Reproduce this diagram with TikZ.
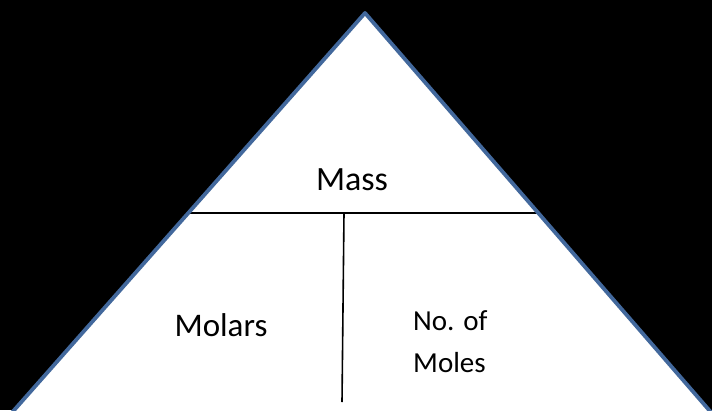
\documentclass[tikz,border=0pt]{standalone}
\usepackage{fontspec}
\setmainfont{Carlito}
\usetikzlibrary{positioning}
\definecolor{edgeblue}{RGB}{66,104,156}
\tikzset{
  word/.style={inner sep=0pt,font=\fontsize{34}{40}\selectfont},
  smallword/.style={inner sep=0pt,align=left,font=\fontsize{29}{42}\selectfont},
  divider/.style={draw=black,line width=1.6pt},
  pyramid/.style={draw=edgeblue,line width=3.8pt,line join=round}
}

\begin{document}
\begin{tikzpicture}[x=1pt,y=-1pt]
\fill[black] (0,0) rectangle (712,410);
\useasboundingbox (0,0) rectangle (712,410);
\coordinate (apex) at (365,13);
\coordinate (baseL) at (1,425);
\coordinate (baseR) at (722,425);
\coordinate (divL) at (188,213);
\coordinate (divR) at (538,213);
\coordinate (split) at (344,213);
\coordinate (foot) at (342,402);
\begin{scope}
\clip (0,0) rectangle (712,410);
\fill[white] (apex) -- (baseL) -- (baseR) -- cycle;
% dividing lines
\draw[divider] (divL) -- (divR);
\draw[divider] (split) -- (foot);
\draw[pyramid] (apex) -- (baseL) -- (baseR) -- cycle;
\end{scope}
\node[word, anchor=base] (mass) at (352,190) {Mass};
\node[word, anchor=base, font=\fontsize{33}{40}\selectfont] (molars) at (221,336) {Molars};
\node[smallword, anchor=base west] (moles) at (413,372) {No. of\\Moles};
\end{tikzpicture}
\end{document}
